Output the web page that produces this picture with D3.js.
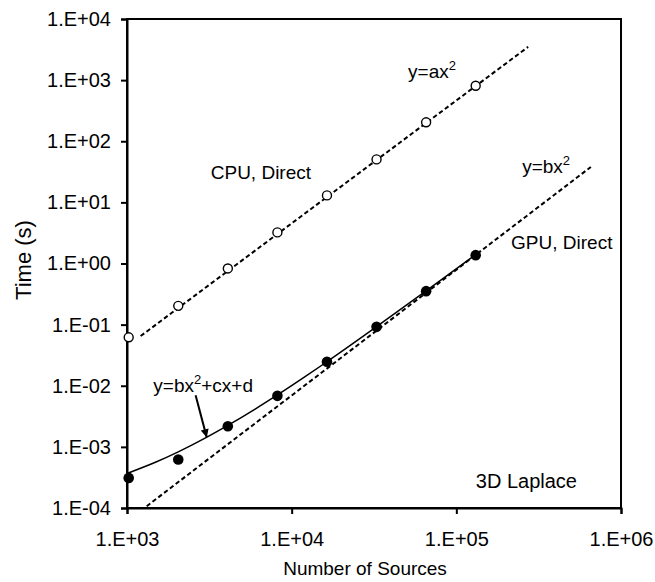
<!DOCTYPE html>
<html>
<head>
<meta charset="utf-8">
<script src="https://cdn.jsdelivr.net/npm/d3@7"></script>
<style>
  body { margin: 0; background: #fff; }
  text { font-family: "Liberation Sans", Arial, sans-serif; fill: #000; }
</style>
</head>
<body>
<svg width="655" height="582"></svg>
<script>
// number of sources
const sources = [1024, 2048, 4096, 8192, 16384, 32768, 65536, 131072];
// timings (s)
const cpuTime = [0.062, 0.203, 0.83, 3.23, 13.0, 50.5, 204, 810];
const gpuTime = [3.11e-4, 6.22e-4, 2.18e-3, 6.84e-3, 0.0247, 0.092, 0.353, 1.37];
// fitted curves
const cpuFit = [[1210, 0.065], [273000, 3500]];
const gpuFit = [[1317, 1.07e-4], [656000, 38]];
const gpuQuadX = [1000, 1500, 2048, 3000, 4096, 6000, 8192, 12000, 16384, 32768, 65536, 131072];
const gpuQuadY = [3.67e-4, 5.65e-4, 8.28e-4, 1.40e-3, 2.24e-3, 4.15e-3, 7.07e-3, 0.01396, 0.0247, 0.0924, 0.356, 1.40];
const xTicks = [1e3, 1e4, 1e5, 1e6];
const yTicks = [1e-4, 1e-3, 1e-2, 1e-1, 1e0, 1e1, 1e2, 1e3, 1e4];

const svg = d3.select('svg');
const width = +svg.attr('width');
const height = +svg.attr('height');
const margin = { top: 19, right: 34, bottom: 74, left: 127 };

const x = d3.scaleLog().domain([1e3, 1e6]).range([margin.left, width - margin.right]);
const y = d3.scaleLog().domain([1e-4, 1e4]).range([height - margin.bottom, margin.top]);

const sci = d => {
  const e = Math.round(Math.log10(d));
  return '1.E' + (e < 0 ? '-' : '+') + String(Math.abs(e)).padStart(2, '0');
};

// frame
svg.append('rect')
    .attr('x', x.range()[0]).attr('y', y.range()[1])
    .attr('width', x.range()[1] - x.range()[0])
    .attr('height', y.range()[0] - y.range()[1])
    .attr('fill', 'none').attr('stroke', '#000').attr('stroke-width', 2);

const xAxis = svg.append('g')
    .attr('transform', `translate(0,${y.range()[0]})`)
    .call(d3.axisBottom(x).tickValues(xTicks).tickFormat(sci).tickSize(6).tickPadding(18));
const yAxis = svg.append('g')
    .attr('transform', `translate(${x.range()[0]},0)`)
    .call(d3.axisLeft(y).tickValues(yTicks).tickFormat(sci).tickSize(6).tickPadding(10));

[xAxis, yAxis].forEach(g => {
  g.select('.domain').attr('stroke-width', 2);
  g.selectAll('.tick line').attr('stroke-width', 2);
  g.selectAll('.tick text')
      .attr('font-family', '"Liberation Sans", Arial, sans-serif')
      .attr('font-size', 20).attr('fill', '#000');
});

svg.append('text')
    .attr('x', 365)
    .attr('y', 575)
    .attr('text-anchor', 'middle')
    .attr('font-size', 19)
    .text('Number of Sources');
svg.append('text')
    .attr('transform', 'translate(31,260) rotate(-90)')
    .attr('text-anchor', 'middle')
    .attr('font-size', 22)
    .text('Time (s)');

const line = d3.line().x(d => x(d[0])).y(d => y(d[1]));

// dashed power-law fits
[cpuFit, gpuFit].forEach(f => {
  svg.append('path')
      .attr('d', line(f))
      .attr('fill', 'none').attr('stroke', '#000')
      .attr('stroke-width', 2).attr('stroke-dasharray', '4.5,2.8');
});

// quadratic fit through GPU points
svg.append('path')
    .attr('d', line.curve(d3.curveMonotoneX)(gpuQuadX.map((v, i) => [v, gpuQuadY[i]])))
    .attr('fill', 'none').attr('stroke', '#000').attr('stroke-width', 1.5);

svg.append('g').selectAll('circle')
  .data(sources.map((s, i) => [s, cpuTime[i]]))
  .enter().append('circle')
    .attr('cx', d => x(d[0])).attr('cy', d => y(d[1])).attr('r', 4.5)
    .attr('fill', '#fff').attr('stroke', '#000').attr('stroke-width', 1.4);

svg.append('g').selectAll('circle')
  .data(sources.map((s, i) => [s, gpuTime[i]]))
  .enter().append('circle')
    .attr('cx', d => x(d[0])).attr('cy', d => y(d[1])).attr('r', 5.3)
    .attr('fill', '#000');

// labels
const labels = [
  { at: [50950, 1070], size: 19, parts: ['y=ax', '2'] },
  { at: [251000, 29.8], size: 19, parts: ['y=bx', '2'] },
  { at: [3225, 24], size: 19, parts: ['CPU, Direct'] },
  { at: [215000, 1.7], size: 19, parts: ['GPU, Direct'] },
  { at: [1445, 8.0e-3], size: 19, parts: ['y=bx', '2', '+cx+d'] },
  { at: [131300, 2.16e-4], size: 20, parts: ['3D Laplace'] },
];
labels.forEach(l => {
  const t = svg.append('text')
      .attr('x', x(l.at[0])).attr('y', y(l.at[1]))
      .attr('font-size', l.size);
  t.append('tspan').text(l.parts[0]);
  if (l.parts.length > 1) {
    t.append('tspan').attr('dy', -8).attr('font-size', 13).text(l.parts[1]);
  }
  if (l.parts.length > 2) {
    t.append('tspan').attr('dy', 8).text(l.parts[2]);
  }
});

// arrow to the quadratic curve
svg.append('defs').append('marker')
    .attr('id', 'arr').attr('viewBox', '0 0 10 10')
    .attr('refX', 10).attr('refY', 5)
    .attr('markerWidth', 5.5).attr('markerHeight', 4)
    .attr('orient', 'auto')
  .append('path').attr('d', 'M0,0L10,5L0,10Z').attr('fill', '#000');
svg.append('path')
    .attr('d', d3.line()([[x(2610), y(7.0e-3)], [x(3050), y(1.43e-3)]]))
    .attr('stroke', '#000').attr('stroke-width', 2)
    .attr('marker-end', 'url(#arr)');
</script>
</body>
</html>
